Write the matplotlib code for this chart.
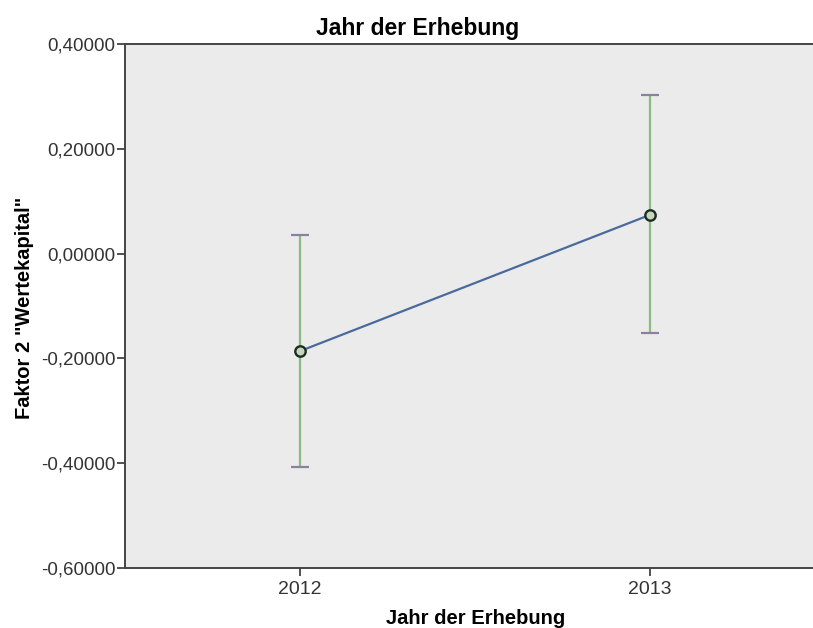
import numpy as np
import matplotlib.pyplot as plt

plt.rcParams['font.family'] = ['Liberation Sans', 'DejaVu Sans']

# ----------------------------
# Data
# ----------------------------
years = [2012, 2013]
year_labels = ["2012", "2013"]
means = [-0.186, 0.074]
ci_low = [-0.407, -0.152]
ci_high = [0.036, 0.303]
y_ticks = [-0.6, -0.4, -0.2, 0.0, 0.2, 0.4]


def fmt(v: float) -> str:
    """German decimal comma with five decimals."""
    return f"{v:.5f}".replace(".", ",")


def main():
    fig = plt.figure(figsize=(8.13, 6.28), dpi=100)
    ax = fig.add_axes([0.1538, 0.0955, 0.861, 0.8344])
    ax.set_facecolor("#EBEBEB")

    x = np.array(years, dtype=float)
    m = np.array(means)
    lo = m - np.array(ci_low)
    hi = np.array(ci_high) - m

    # error bars
    ax.errorbar(x, m, yerr=[lo, hi], fmt="none", ecolor="#8DBA80",
                elinewidth=1.6, capsize=0, zorder=2)
    ax.plot(x, ci_low, linestyle="none", marker="_", markersize=13,
            markeredgewidth=1.6, color="#8A80A0", zorder=3)
    ax.plot(x, ci_high, linestyle="none", marker="_", markersize=13,
            markeredgewidth=1.6, color="#8A80A0", zorder=3)

    # mean line and markers
    ax.plot(x, m, color="#4A6A9E", linewidth=1.6, zorder=4)
    ax.plot(x, m, linestyle="none", marker="o", markersize=7.5,
            markerfacecolor="#C4D6BE", markeredgecolor="#1E2E1E",
            markeredgewidth=1.7, zorder=5)

    ax.set_xlim(2011.5, 2013.5)
    ax.set_ylim(-0.6, 0.4)
    ax.set_xticks(years)
    ax.set_xticklabels(year_labels, fontsize=14)
    ax.set_yticks(y_ticks)
    ax.set_yticklabels([fmt(v) for v in y_ticks], fontsize=13.5)
    ax.tick_params(direction="out", length=6, width=1.2, color="#333333",
                   labelcolor="#333333", pad=1)
    ax.tick_params(axis="x", pad=3)

    for side in ["left", "bottom", "top", "right"]:
        ax.spines[side].set_color("#444444")
        ax.spines[side].set_linewidth(1.4)

    fig.text(418 / 813, 1 - 28 / 628, "Jahr der Erhebung", ha="center",
             va="center", fontsize=16.5, fontweight="bold")
    fig.text(476 / 813, 1 - 618 / 628, "Jahr der Erhebung", ha="center",
             va="center", fontsize=14.5, fontweight="bold")
    fig.text(24 / 813, 1 - 308 / 628, 'Faktor 2 "Wertekapital"',
             ha="center", va="center", rotation=90, fontsize=14.5,
             fontweight="bold")

    fig.savefig("out.png", dpi=100)


if __name__ == "__main__":
    main()
